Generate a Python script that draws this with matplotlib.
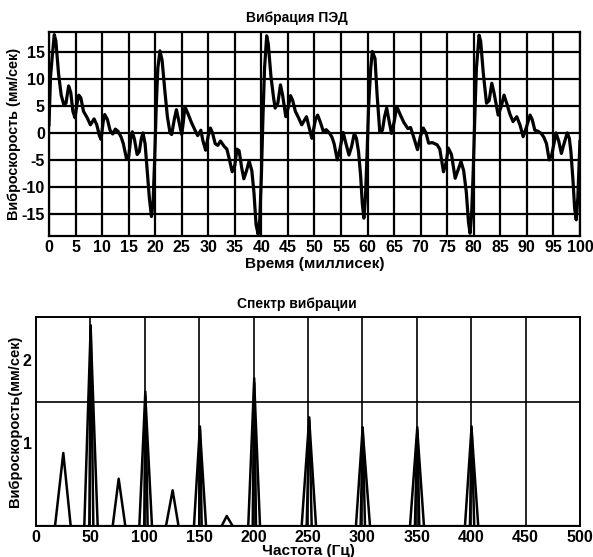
import numpy as np
import matplotlib
matplotlib.use("Agg")
import matplotlib.pyplot as plt

plt.rcParams['font.family'] = ['Liberation Sans', 'DejaVu Sans']
plt.rcParams['font.weight'] = 'bold'
plt.rcParams['axes.unicode_minus'] = False

# time signal, in 20 ms pieces
t1 = [0, 0.3, 0.6, 1.0, 1.3, 1.8, 2.3, 2.8, 3.2, 3.7, 4.1, 4.5, 4.9, 5.3, 5.6, 6.0, 6.5, 7.2, 7.8, 8.5,
      9.0, 9.5, 9.8, 10.2, 10.5, 11.0, 11.5, 12.0, 12.5, 13.0, 13.6, 14.0, 14.6, 15.0, 15.4, 15.7, 16.1,
      16.6, 17.0, 17.4, 17.7, 18.1, 18.5, 18.9, 19.3, 19.6, 19.9]
v1 = [1.5, 10.5, 14, 18.2, 17, 11, 7, 5.2, 5.5, 8.7, 7.5, 4, 2.8, 5.5, 7, 6.5, 4, 2.8, 1.5, 2.6,
      1.5, -0.5, -1.2, 2, 3.4, 2.5, 0.5, -0.2, 0.7, 0.3, -0.8, -2, -4.8, -4.5, -1, 0.2, -1.2,
      -4, -3.5, -1, 0, -2, -7, -12, -15.5, -13, -5]
t2 = [20.2, 20.5, 20.9, 21.3, 21.8, 22.3, 22.8, 23.1, 23.6, 24.0, 24.5, 25.0, 25.3, 25.6, 26.2, 26.8,
      27.5, 28.0, 28.6, 29.0, 29.5, 30.0, 30.4, 30.8, 31.3, 31.8, 32.3, 33.0, 33.5, 34.0, 34.5, 35.0,
      35.4, 35.8, 36.3, 36.7, 37.2, 37.7, 38.2, 38.6, 39.0, 39.4, 39.7]
v2 = [5, 12, 15.2, 13.5, 8, 3, 0, -0.3, 2.5, 4.3, 2, -0.3, 2, 4.9, 3.5, 2,
      0.5, -0.5, 0.5, -1.5, -3.2, -0.5, 0.9, 0, -2, -2.3, -1.5, -2.5, -3, -5, -7.2, -6,
      -3, -3.3, -6.5, -8.5, -7, -5.2, -7, -11, -17, -18.8, -16]
t3 = [40.0, 40.3, 40.6, 41.0, 41.3, 41.8, 42.3, 42.6, 43.1, 43.6, 44.0, 44.6, 45.0, 45.5, 45.9, 46.4,
      47.0, 47.6, 48.5, 49.0, 49.5, 50.2, 50.6, 51.1, 51.7, 52.2, 52.8, 53.3, 53.7, 54.3, 54.8, 55.4,
      55.8, 56.5, 57.0, 57.5, 57.9, 58.3, 58.7, 59.0, 59.3, 59.6, 59.9]
v3 = [-8, 3, 12, 18.0, 16.5, 10.5, 6.5, 4.6, 5.5, 8.9, 7, 3.0, 4.5, 6.9, 6, 4,
      2.8, 1.5, 3.0, 1, -1.0, 2.5, 3.3, 2, 0.2, 0.6, 0.0, -0.8, -2, -5.0, -3, 0.1,
      -1.5, -4.1, -2.5, -0.1, -1, -3.5, -8, -13, -15.8, -12, -4]
t4 = [60.2, 60.6, 60.9, 61.4, 61.8, 62.3, 62.8, 63.2, 63.6, 64.0, 64.5, 65.0, 65.5, 66.1, 66.8, 67.6,
      68.1, 68.6, 69.4, 70.0, 70.5, 71.0, 71.5, 72.2, 73.1, 73.6, 74.3, 74.8, 75.2, 75.8, 76.5, 77.0,
      77.6, 78.1, 78.6, 79.0, 79.3, 79.6, 79.9, 80.2, 80.5]
v4 = [5, 12, 15.1, 13.8, 7, 0.2, 0.5, 3, 4.6, 2.5, -0.1, 2, 4.9, 3.5, 2, 0.8,
      1.0, -0.5, -3.1, -0.5, 0.9, 0, -1.9, -1.8, -2.2, -3, -7.2, -5.5, -2.8, -4, -8.4, -7,
      -5.3, -7, -11, -16.5, -18.6, -15, -7, 3, 12]
t5 = [81.0, 81.3, 81.8, 82.4, 82.9, 83.4, 83.8, 84.6, 85.2, 85.7, 86.2, 86.8, 87.4, 88.1, 88.7, 89.3,
      89.9, 90.6, 91.0, 91.5, 92.1, 92.7, 93.2, 93.7, 94.2, 94.7, 95.5, 96.0, 96.5, 97.0, 97.6, 98.0,
      98.3, 98.7, 99.0, 99.3, 99.6, 100.0]
v5 = [18.1, 17, 11, 5.5, 6, 9.2, 7.5, 3.3, 5, 7.0, 5.5, 3.5, 2.1, 3.0, 1.5, -0.7,
      1, 3.3, 2.5, 0.5, 0.3, -0.1, -0.8, -2, -5.0, -4, 0, -1.5, -3.8, -2, 0, -1,
      -3.5, -9, -14, -16.1, -12, -1.6]

# spectrum peaks: centre, height, outer base, inner base
peak_f = [25.1, 50.3, 76.0, 100.5, 125.6, 150.7, 175.3, 200.6, 251.2, 300.3, 350.5, 400.4]
peak_h = [0.88, 2.42, 0.57, 1.62, 0.43, 1.20, 0.12, 1.78, 1.31, 1.19, 1.19, 1.20]
base_l = [17.5, 44.4, 70.5, 95.0, 119.5, 145.2, 170.7, 195.1, 244.2, 294.1, 343.8, 394.3]
base_r = [31.9, 56.7, 82.1, 106.6, 131.0, 156.3, 180.8, 205.9, 257.4, 307.0, 356.6, 406.5]
inner_l = [None, 49.0, None, 99.5, None, 150.1, None, 199.2, 248.8, 298.4, 348.3, 398.9]
inner_r = [None, 52.7, None, 102.6, None, 152.3, None, 202.2, 253.4, 302.4, 352.3, 402.8]

fig = plt.figure(figsize=(5.93, 5.57), dpi=100)

ax1 = fig.add_axes([0.0826, 0.5763, 0.8954, 0.3663])
t = np.concatenate([t1, t2, t3, t4, t5])
v = np.concatenate([v1, v2, v3, v4, v5])
ax1.plot(t, v, color='black', lw=2.3, solid_joinstyle='round')
ax1.set_xlim(0, 100)
ax1.set_ylim(-19.1, 18.7)
ax1.set_xticks(np.arange(0, 101, 5))
ax1.set_yticks([-15, -10, -5, 0, 5, 10, 15])
ax1.grid(True, color='black', lw=1.6)
ax1.tick_params(length=0, labelsize=11.5, pad=3)
ax1.set_xlabel('Время (миллисек)', fontsize=11.1, fontweight='bold', labelpad=1)
ax1.set_ylabel('Виброскорость (мм/сек)', fontsize=10.4, fontweight='bold')
ax1.yaxis.set_label_coords(-0.053, 0.5)
for s in ax1.spines.values():
    s.set_linewidth(1.6)
fig.text(0.5, 0.968, 'Вибрация ПЭД', fontsize=10, fontweight='bold', ha='center', va='center')

ax2 = fig.add_axes([0.0607, 0.0557, 0.9173, 0.3752])
for i in range(len(peak_f)):
    if inner_l[i] is None:
        ax2.plot([base_l[i], peak_f[i], base_r[i]], [0, peak_h[i], 0], color='black', lw=1.8)
    else:
        ax2.plot([base_l[i], peak_f[i], inner_r[i]], [0, peak_h[i], 0], color='black', lw=1.8)
        ax2.plot([inner_l[i], peak_f[i], base_r[i]], [0, peak_h[i] * 0.97, 0], color='black', lw=1.8)
ax2.plot([0, 500], [0, 0], color='black', lw=1.6)
ax2.set_xlim(0, 500)
ax2.set_ylim(0, 2.52)
ax2.set_xticks(np.arange(0, 501, 50))
ax2.set_yticks([1, 2])
for x in range(50, 500, 50):
    ax2.axvline(x, color='black', lw=1.2)
ax2.axhline(1.5, color='black', lw=1.2)
ax2.tick_params(length=0, labelsize=11.5, pad=3)
ax2.set_xlabel('Частота (Гц)', fontsize=11.1, fontweight='bold', labelpad=-1)
ax2.set_ylabel('Виброскорость(мм/сек)', fontsize=10.5, fontweight='bold')
ax2.yaxis.set_label_coords(-0.0257, 0.5)
for s in ax2.spines.values():
    s.set_linewidth(1.4)
fig.text(0.5, 0.454, 'Спектр вибрации', fontsize=10, fontweight='bold', ha='center', va='center')

fig.savefig('out.png', dpi=100)
